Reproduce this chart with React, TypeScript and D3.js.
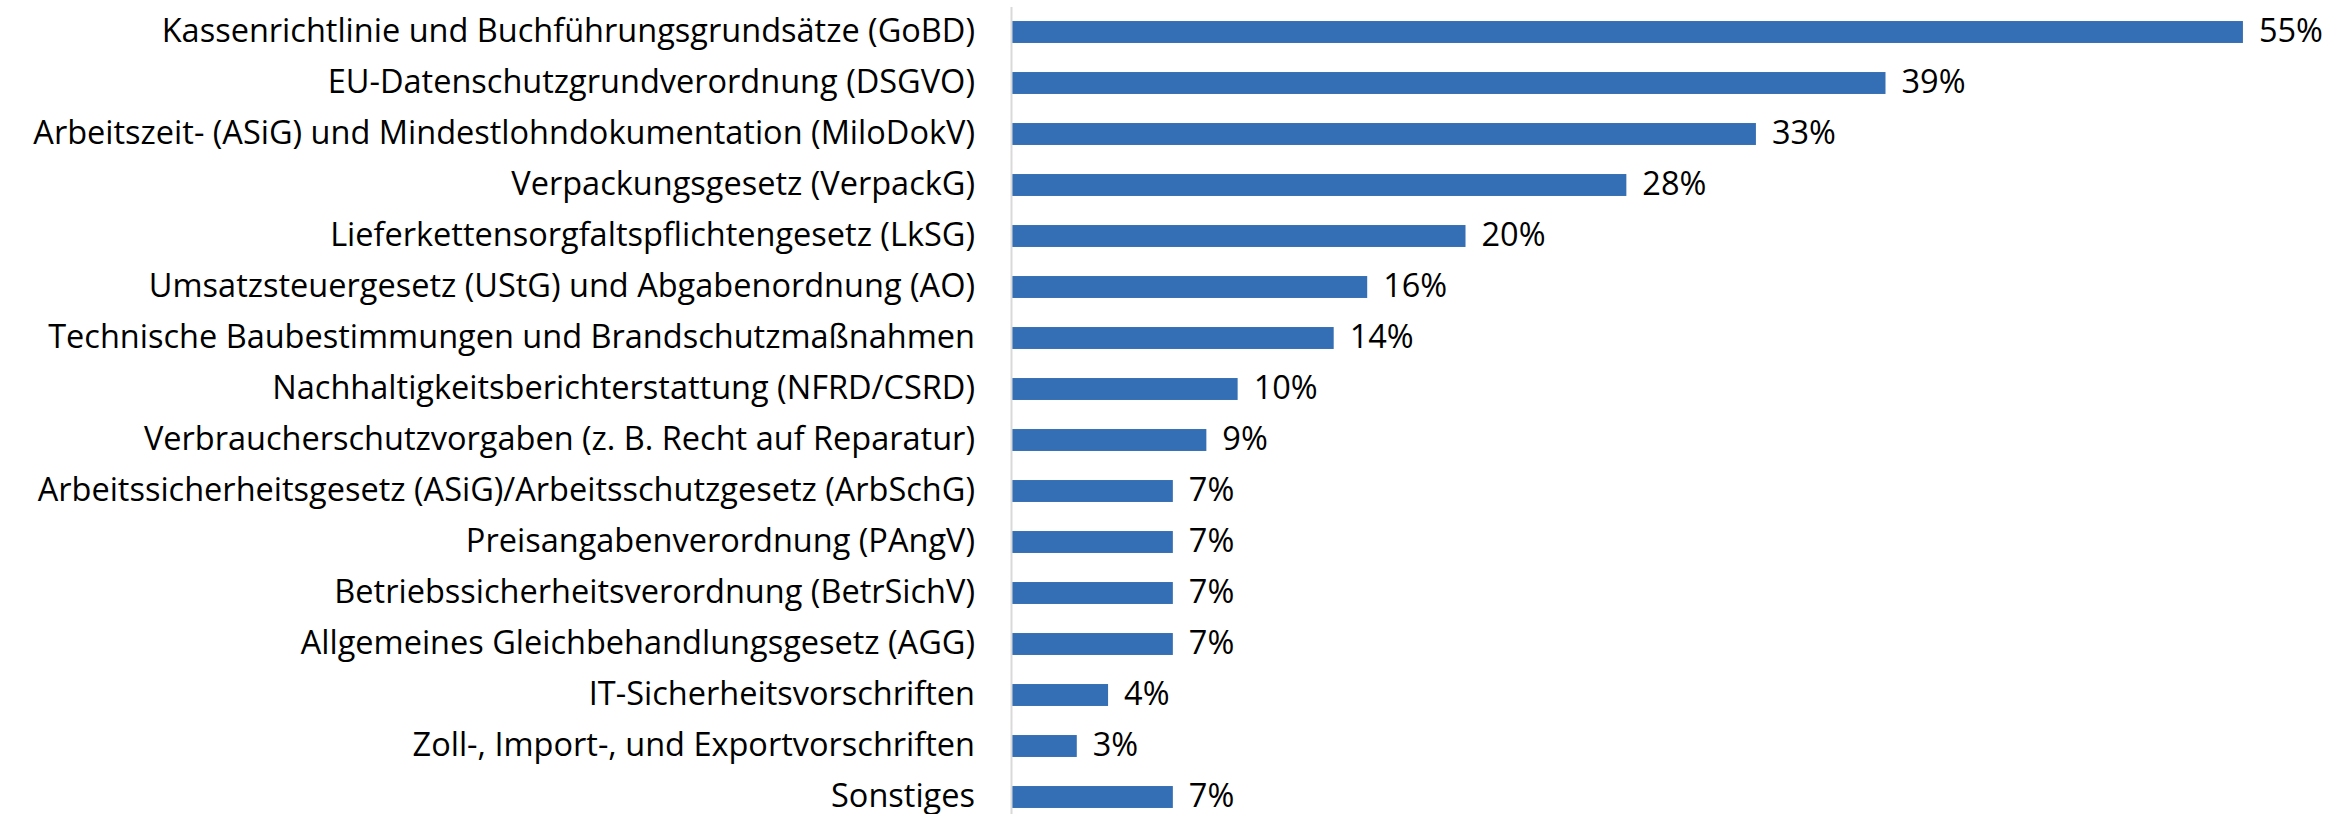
import React, { useEffect, useRef } from 'react';
import * as d3 from 'd3';

const categories = [
  'Kassenrichtlinie und Buchführungsgrundsätze (GoBD)',
  'EU-Datenschutzgrundverordnung (DSGVO)',
  'Arbeitszeit- (ASiG) und Mindestlohndokumentation (MiloDokV)',
  'Verpackungsgesetz (VerpackG)',
  'Lieferkettensorgfaltspflichtengesetz (LkSG)',
  'Umsatzsteuergesetz (UStG) und Abgabenordnung (AO)',
  'Technische Baubestimmungen und Brandschutzmaßnahmen',
  'Nachhaltigkeitsberichterstattung (NFRD/CSRD)',
  'Verbraucherschutzvorgaben (z. B. Recht auf Reparatur)',
  'Arbeitssicherheitsgesetz (ASiG)/Arbeitsschutzgesetz (ArbSchG)',
  'Preisangabenverordnung (PAngV)',
  'Betriebssicherheitsverordnung (BetrSichV)',
  'Allgemeines Gleichbehandlungsgesetz (AGG)',
  'IT-Sicherheitsvorschriften',
  'Zoll-, Import-, und Exportvorschriften',
  'Sonstiges',
];

// share in percent
const shares = [55.1, 39.1, 33.3, 27.5, 20.3, 15.9, 14.4, 10.1, 8.7, 7.2, 7.2, 7.2, 7.2, 4.3, 2.9, 7.2];

const W = 2351;
const H = 814;
const FONT = '"Open Sans", sans-serif';
const FS = '32.5px';

export default function App() {
  const ref = useRef<SVGSVGElement | null>(null);

  useEffect(() => {
    document.body.style.margin = '0';
    const svg = d3.select(ref.current);
    svg.selectAll('*').remove();

    const x0 = 1012;
    const x = d3.scaleLinear().domain([0, 60]).range([x0, x0 + 60 * 22.34]);
    const y = d3
      .scaleBand<string>()
      .domain(categories)
      .range([6.5, 822.5])
      .paddingInner(0.57)
      .paddingOuter(0.285);

    const rows = categories.map((c, i) => ({ c, v: shares[i] }));

    svg
      .append('g')
      .selectAll('rect')
      .data(rows)
      .enter()
      .append('rect')
      .attr('x', x(0))
      .attr('y', (d) => y(d.c)!)
      .attr('width', (d) => x(d.v) - x(0))
      .attr('height', y.bandwidth())
      .attr('fill', '#346EB4');

    svg
      .append('g')
      .selectAll('text')
      .data(rows)
      .enter()
      .append('text')
      .attr('x', (d) => x(d.v) + 16)
      .attr('y', (d) => y(d.c)! + y.bandwidth() / 2)
      .attr('dy', '0.3em')
      .style('font-family', FONT)
      .style('font-size', FS)
      .attr('fill', '#000')
      .text((d) => `${Math.round(d.v)}%`);

    const axis = svg
      .append('g')
      .attr('transform', `translate(${x0 - 1},0)`)
      .call(d3.axisLeft(y).tickSize(0).tickPadding(36));
    axis.select('.domain').attr('stroke', '#d9d9d9').attr('stroke-width', 2);
    axis
      .selectAll('text')
      .style('font-family', FONT)
      .style('font-size', FS)
      .attr('fill', '#000')
      .attr('dy', '0.3em');
  }, []);

  return <svg ref={ref} width={W} height={H} style={{ display: 'block', background: '#fff' }} />;
}
